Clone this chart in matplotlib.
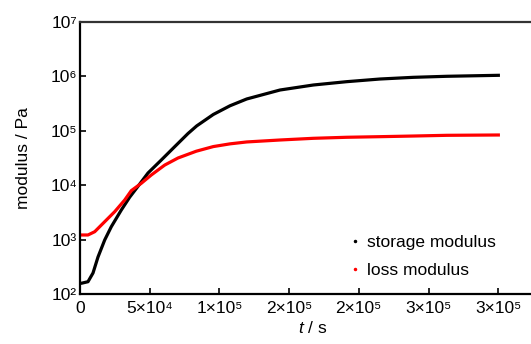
import numpy as np
import matplotlib.pyplot as plt
from matplotlib.lines import Line2D

plt.rcParams['font.family'] = ['Liberation Sans', 'DejaVu Sans']
plt.rcParams['mathtext.fontset'] = 'custom'
plt.rcParams['mathtext.rm'] = 'Liberation Sans'
plt.rcParams['mathtext.it'] = 'Liberation Sans:italic'

# time (s) and log10 of modulus (Pa)
t_storage = [0, 930, 5740, 9330, 12910, 17720, 22450, 29630, 35650, 41610,
             48780, 58320, 67930, 77470, 83720, 95620, 107600, 119600,
             143500, 167400, 191300, 215200, 239100, 263100, 300100]
log_storage = [2.20, 2.197, 2.226, 2.386, 2.68, 2.993, 3.237, 3.544, 3.78, 3.98,
               4.224, 4.463, 4.708, 4.95, 5.09, 5.30, 5.46, 5.585,
               5.75, 5.842, 5.903, 5.952, 5.983, 6.002, 6.02]

t_loss = [0, 5740, 10550, 17720, 24890, 32070, 36800, 43970, 51150, 60760,
          70300, 83430, 95620, 107600, 119600, 143500, 167400, 191300, 215200,
          239100, 263100, 300100]
log_loss = [3.085, 3.085, 3.145, 3.329, 3.513, 3.728, 3.90, 4.035, 4.188, 4.37,
            4.50, 4.625, 4.71, 4.76, 4.795, 4.831, 4.862, 4.881, 4.892,
            4.904, 4.917, 4.923]

xticks = [0, 5e4, 1e5, 1.5e5, 2e5, 2.5e5, 3e5]
xticklabels = ['0', '5×10⁴', '1×10⁵', '2×10⁵', '2×10⁵', '3×10⁵', '3×10⁵']
yticks = [1e2, 1e3, 1e4, 1e5, 1e6, 1e7]
yticklabels = ['10²', '10³', '10⁴', '10⁵', '10⁶', '10⁷']

fig = plt.figure(figsize=(5.31, 3.44), dpi=100)
ax = fig.add_axes([80/531, 50/344, 465/531, 272/344])

ax.plot(t_storage, 10 ** np.array(log_storage), color='black', lw=2.3)
ax.plot(t_loss, 10 ** np.array(log_loss), color='red', lw=2.3)

ax.set_yscale('log')
ax.set_xlim(0, 465 * 5e4 / 69.7)
ax.set_ylim(1e2, 1e7)
ax.set_xticks(xticks)
ax.set_xticklabels(xticklabels)
ax.set_yticks(yticks)
ax.set_yticklabels(yticklabels)
ax.minorticks_off()
ax.tick_params(direction='in', length=4, width=1.2, labelsize=12.5)
ax.tick_params(axis='x', pad=5)
ax.tick_params(axis='y', pad=2)

for s in ['left', 'bottom', 'top']:
    ax.spines[s].set_linewidth(1.6)
ax.spines['top'].set_color('#333333')
ax.spines['right'].set_visible(False)

ax.set_ylabel('modulus / Pa', fontsize=12.5, labelpad=14)
ax.set_xlabel(r'$t$ / s', fontsize=12.5, labelpad=3)

handles = [Line2D([], [], ls='', marker='.', ms=3, color='black'),
           Line2D([], [], ls='', marker='.', ms=3, color='red')]
ax.legend(handles, ['storage modulus', 'loss modulus'], frameon=False,
          loc='upper left', bbox_to_anchor=(350/531, 1 - 235/344),
          bbox_transform=fig.transFigure, fontsize=12.5,
          handlelength=0.6, handletextpad=0.4, labelspacing=0.75,
          borderpad=0, borderaxespad=0)

fig.savefig('out.png', dpi=100)
